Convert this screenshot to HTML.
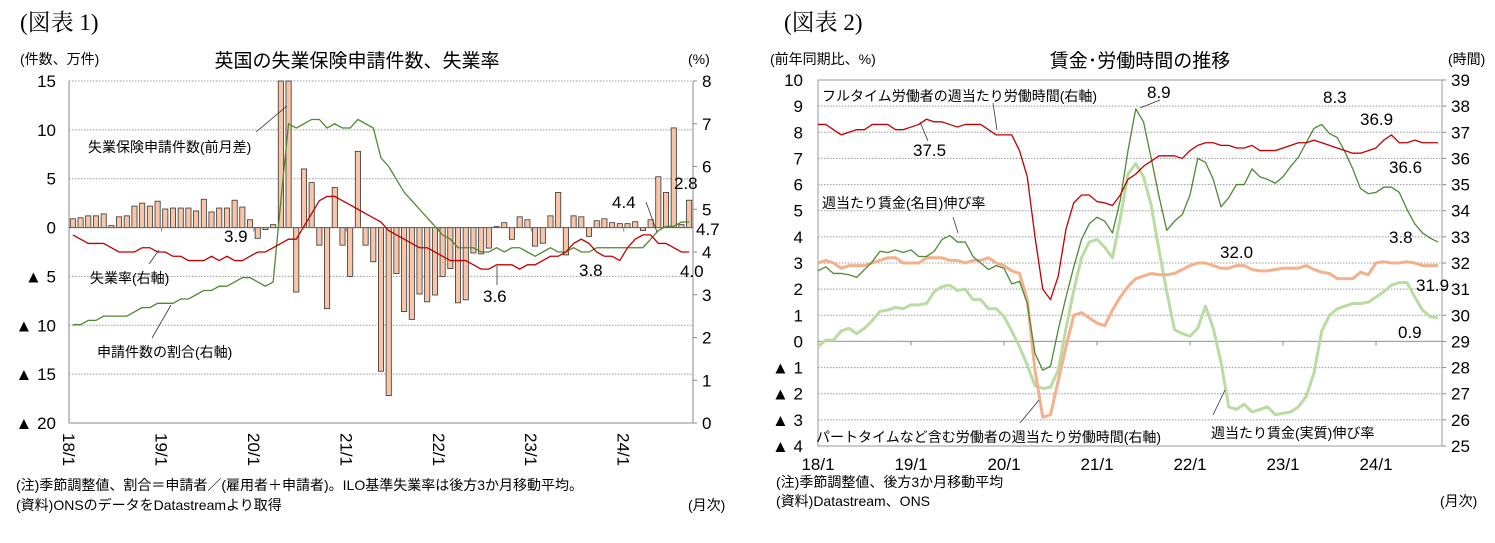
<!DOCTYPE html>
<html><head><meta charset="utf-8">
<style>
html,body{margin:0;padding:0;background:#fff;}
svg{display:block;font-family:"Liberation Sans","Noto Sans CJK JP",sans-serif;}
.t{font-size:14px;fill:#000;}
.n{font-size:17px;fill:#000;}
.ax{font-size:17px;fill:#000;}
</style></head>
<body>
<svg id="c" width="1495" height="543" viewBox="0 0 1495 543">
<text x="20" y="30" style="font-family:'Liberation Serif','Noto Serif CJK SC',serif;font-size:23px">(図表 1)</text>
<text x="784" y="30" style="font-family:'Liberation Serif','Noto Serif CJK SC',serif;font-size:23px">(図表 2)</text>
<text x="357" y="67" text-anchor="middle" style="font-size:19px">英国の失業保険申請件数、失業率</text>
<text x="1140" y="67" text-anchor="middle" style="font-size:19px">賃金･労働時間の推移</text>
<text x="20" y="64" class="t">(件数、万件)</text>
<text x="688" y="64" class="t">(%)</text>
<text x="770" y="64" class="t">(前年同期比、%)</text>
<text x="1448" y="64" class="t">(時間)</text>
<text x="16" y="490" class="t">(注)季節調整値、割合＝申請者／(雇用者＋申請者)。ILO基準失業率は後方3か月移動平均。</text>
<text x="16" y="510" class="t">(資料)ONSのデータをDatastreamより取得</text>
<text x="688" y="510" class="t">(月次)</text>
<text x="776" y="487" class="t">(注)季節調整値、後方3か月移動平均</text>
<text x="776" y="506" class="t">(資料)Datastream、ONS</text>
<text x="1440" y="506" class="t">(月次)</text>
<g id="g1"></g>
<g id="g2"></g>
</svg>
<script>
// ---- Chart 1 data ----
const years1 = ["18/1","19/1","20/1","21/1","22/1","23/1","24/1"];
const claimChange = [0.9,1.0,1.2,1.2,1.4,0.2,1.1,1.2,2.2,2.5,2.2,2.7,
 1.9,2.0,2.0,2.0,1.7,2.9,1.6,2.0,2.0,2.8,2.1,0.8,
 -1.1,-0.2,0.3,85,43,-6.6,6.0,4.6,-1.8,-8.3,4.1,-1.8,
 -5.0,7.8,-1.8,-3.5,-14.7,-17.2,-4.7,-8.6,-9.4,-6.8,-7.6,-6.9,
 -5.0,-4.2,-7.7,-7.4,-2.6,-2.7,-2.1,0.1,0.5,-1.2,1.1,0.8,
 -1.9,-1.6,1.2,3.6,-2.8,1.2,1.1,-0.9,0.7,0.9,0.5,0.4,
 0.4,0.6,-0.3,0.8,5.2,3.6,10.2,0.3,2.8];
const unempRate = [4.4,4.3,4.2,4.2,4.2,4.1,4.0,4.0,4.0,4.1,4.1,4.0,
 4.0,3.9,3.9,3.8,3.8,3.8,3.9,3.8,3.9,3.8,3.8,3.9,
 4.0,4.0,4.1,4.2,4.3,4.3,4.6,4.9,5.2,5.3,5.3,5.2,
 5.1,5.0,4.9,4.8,4.7,4.5,4.4,4.3,4.2,4.1,4.1,4.0,
 3.9,3.8,3.8,3.8,3.7,3.6,3.6,3.7,3.7,3.7,3.6,3.7,
 3.7,3.8,3.9,3.9,4.0,4.2,4.3,4.2,4.0,3.9,3.9,3.8,
 4.1,4.3,4.4,4.4,4.2,4.2,4.1,4.0,4.0];
const claimShare = [2.3,2.3,2.4,2.4,2.5,2.5,2.5,2.5,2.6,2.7,2.7,2.8,
 2.8,2.8,2.9,2.9,3.0,3.1,3.1,3.2,3.2,3.3,3.4,3.4,
 3.3,3.2,3.3,5.2,7.0,6.9,7.0,7.1,7.1,6.9,7.0,6.9,
 6.9,7.1,7.0,6.9,6.2,6.0,5.7,5.4,5.2,5.0,4.8,4.6,
 4.4,4.3,4.1,4.1,4.1,4.0,4.0,4.1,4.0,4.1,4.1,4.0,
 3.9,4.0,4.1,4.0,4.0,4.1,4.0,4.0,4.1,4.1,4.1,4.1,
 4.1,4.1,4.1,4.3,4.5,4.6,4.6,4.7,4.7];
const leftTicks1 = [15,10,5,0,-5,-10,-15,-20];
const rightTicks1 = [8,7,6,5,4,3,2,1,0];

// ---- Chart 2 data ----
const years2 = ["18/1","19/1","20/1","21/1","22/1","23/1","24/1"];
const fullHours = [37.3,37.3,37.1,36.9,37.0,37.1,37.1,37.3,37.3,37.3,37.1,37.1,37.2,37.3,37.5,37.4,37.4,37.3,37.2,37.3,37.3,37.3,37.1,36.9,36.9,36.9,
 36.3,35.3,33.0,31.0,30.6,31.5,33.3,34.3,34.6,34.6,34.35,34.3,34.2,34.6,35.2,35.4,35.7,35.9,36.1,36.1,36.1,36.0,36.3,36.5,36.6,36.6,36.5,36.5,36.4,36.4,36.5,36.3,36.3,36.3,36.4,36.5,36.6,36.6,36.7,36.6,36.5,36.4,36.3,36.2,36.2,36.3,36.4,36.7,36.9,36.6,36.6,36.7,36.6,36.6,36.6];
const allHours = [32.0,32.1,32.0,31.8,31.9,31.9,31.9,32.0,32.1,32.2,32.2,32.0,32.0,32.0,32.2,32.2,32.2,32.1,32.1,32.0,32.1,32.1,32.2,32.0,31.9,31.7,
 31.6,30.6,27.9,26.1,26.2,27.5,28.8,30.0,30.1,29.9,29.7,29.6,30.2,30.7,31.1,31.4,31.5,31.6,31.55,31.55,31.6,31.75,31.9,32.0,32.0,31.9,31.8,31.8,31.9,31.9,31.75,31.7,31.7,31.75,31.8,31.8,31.8,31.9,31.75,31.65,31.6,31.4,31.4,31.4,31.65,31.55,32.0,32.05,32.0,32.0,32.05,32.0,31.9,31.9,31.9];
const nominalWage = [2.7,2.85,2.6,2.6,2.55,2.45,2.75,3.05,3.45,3.4,3.5,3.4,3.5,3.25,3.25,3.45,3.9,4.05,3.8,3.8,3.25,3.0,2.75,2.9,2.8,2.2,
 2.3,1.45,-0.45,-1.1,-0.95,0.45,1.7,2.85,3.9,4.5,4.75,4.6,4.15,5.4,7.3,8.9,8.4,7.0,5.55,4.25,4.6,4.85,5.6,7.0,6.85,6.2,5.15,5.5,6.0,6.0,6.6,6.3,6.2,6.05,6.3,6.7,7.05,7.6,8.15,8.3,7.95,7.8,7.25,6.6,5.85,5.65,5.7,5.9,5.9,5.7,5.05,4.5,4.15,3.95,3.8];
const realWage = [-0.2,0.05,0.05,0.4,0.5,0.3,0.5,0.8,1.15,1.2,1.3,1.25,1.4,1.4,1.45,1.9,2.1,2.15,1.95,2.0,1.6,1.6,1.25,1.25,0.95,0.4,
 -0.2,-0.9,-1.7,-1.8,-1.75,-1.1,0.5,1.95,3.2,3.8,3.9,3.6,3.2,4.7,6.4,6.8,6.3,5.2,3.5,1.9,0.45,0.3,0.2,0.5,1.35,0.5,-0.8,-2.5,-2.6,-2.4,-2.7,-2.6,-2.5,-2.8,-2.75,-2.7,-2.5,-2.1,-1.2,0.4,1.0,1.25,1.35,1.45,1.45,1.5,1.7,1.9,2.15,2.25,2.25,1.7,1.2,0.95,0.9];
const leftTicks2 = [10,9,8,7,6,5,4,3,2,1,0,-1,-2,-3,-4];
const rightTicks2 = [39,38,37,36,35,34,33,32,31,30,29,28,27,26,25];

const NS="http://www.w3.org/2000/svg";
function mk(parent,tag,attrs){const e=document.createElementNS(NS,tag);for(const k in attrs)e.setAttribute(k,attrs[k]);parent.appendChild(e);return e;}
function fmt(v){return v<0?"▲ "+(-v):String(v);}

// ===== Chart 1 =====
(function(){
const g=document.getElementById('g1');
const X0=69,X1=693,Y0=81,Y1=423;
const n=claimChange.length, bw=(X1-X0)/n;
const xb=i=>X0+(i+0.5)*bw;
const yl=v=>Y0+(15-v)*(Y1-Y0)/35;
const yr=v=>Y1-v*(Y1-Y0)/8;
leftTicks1.forEach(v=>{
  const l=mk(g,'line',{x1:X0,x2:X1,y1:yl(v),y2:yl(v),stroke:'#999','stroke-dasharray':'1.5,1.5','stroke-width':1});
  
  
  const t=mk(g,'text',{x:56,y:yl(v)+6,'text-anchor':'end',class:'ax'});t.textContent=fmt(v);
  
  
});
rightTicks1.forEach(v=>{
  const t=mk(g,'text',{x:702,y:yr(v)+6,class:'ax'});t.textContent=String(v);
  
  
  mk(g,'line',{x1:X1,x2:X1+4,y1:yr(v),y2:yr(v),stroke:'#888'});
});
mk(g,'line',{x1:X0,x2:X0,y1:Y0,y2:Y1,stroke:'#888'});
mk(g,'line',{x1:X1,x2:X1,y1:Y0,y2:Y1,stroke:'#888'});
mk(g,'line',{x1:X0,x2:X1,y1:Y1,y2:Y1,stroke:'#888'});
years1.forEach((s,k)=>{
  const x=X0+k*12*bw;
  mk(g,'line',{x1:x,x2:x,y1:yl(0),y2:yl(0)+4,stroke:'#888'});
  const t=mk(g,'text',{x:x-6,y:433,class:'ax',transform:`rotate(90 ${x-6} 433)`});t.textContent=s;
  
  
});
claimChange.forEach((v,i)=>{
  const vv=Math.max(-20,Math.min(15,v));
  const y=Math.min(yl(vv),yl(0)), h=Math.abs(yl(vv)-yl(0));
  const r=mk(g,'rect',{x:xb(i)-2.6,y:y,width:5.2,height:Math.max(h,0.5),fill:'#f8c5a8',stroke:'#333','stroke-width':0.8});
  
  
});
mk(g,'line',{x1:X0,x2:X1,y1:yl(0),y2:yl(0),stroke:'#666'});
function line(arr,col,w,name){
  const p=mk(g,'polyline',{points:arr.map((v,i)=>xb(i)+','+yr(v)).join(' '),fill:'none',stroke:col,'stroke-width':w});
  
  
}
line(claimShare,'#4f8a2f',1.3,'claimant-share-line');
line(unempRate,'#c00000',1.3,'unemployment-rate-line');
})();

// ===== Chart 2 =====
(function(){
const g=document.getElementById('g2');
const X0=818,X1=1442,Y0=80,Y1=446;
const xs=i=>X0+i*7.75;
const yL=v=>Y0+(10-v)*(Y1-Y0)/14;
const yR=v=>Y0+(39-v)*(Y1-Y0)/14;
leftTicks2.forEach(v=>{
  const l=mk(g,'line',{x1:X0,x2:X1,y1:yL(v),y2:yL(v),stroke:'#999','stroke-dasharray':'1.5,1.5','stroke-width':1});
  
  
  const t=mk(g,'text',{x:803,y:yL(v)+6,'text-anchor':'end',class:'ax'});t.textContent=v<0?"▲ "+(-v):String(v);
  
  
});
rightTicks2.forEach(v=>{
  const t=mk(g,'text',{x:1451,y:yR(v)+6,class:'ax'});t.textContent=String(v);
  
  
  mk(g,'line',{x1:X1,x2:X1+4,y1:yR(v),y2:yR(v),stroke:'#888'});
});
mk(g,'rect',{x:X0,y:Y0,width:X1-X0,height:Y1-Y0,fill:'none',stroke:'#999'});
mk(g,'line',{x1:X0,x2:X1,y1:yL(0),y2:yL(0),stroke:'#999'});
years2.forEach((s,k)=>{
  const x=xs(k*12);
  mk(g,'line',{x1:x,x2:x,y1:yL(0),y2:yL(0)+4,stroke:'#888'});
  const t=mk(g,'text',{x:x,y:470,'text-anchor':'middle',class:'ax'});t.textContent=s;
  
  
});
function line(arr,ys,col,w,name){
  const p=mk(g,'polyline',{points:arr.map((v,i)=>xs(i)+','+ys(v)).join(' '),fill:'none',stroke:col,'stroke-width':w,'stroke-linejoin':'round'});
  
  
}
line(realWage,yL,'#b8dca2',3,'real-wage-growth-line');
line(allHours,yR,'#f4b08a',3,'all-worker-hours-line');
line(nominalWage,yL,'#4e8a34',1.3,'nominal-wage-growth-line');
line(fullHours,yR,'#c00000',1.3,'fulltime-hours-line');
})();

// annotations
const svg=document.getElementById('c');
const ann=[
 [88,152,'t','失業保険申請件数(前月差)','label-claimant-change'],
 [90,283,'t','失業率(右軸)','label-unemployment-rate'],
 [97,357,'t','申請件数の割合(右軸)','label-claimant-share'],
 [224,242,'n','3.9','value-3-9'],[483,302,'n','3.6','value-3-6'],[579,276,'n','3.8','value-3-8'],
 [612,208,'n','4.4','value-4-4'],[674,189,'n','2.8','value-2-8'],[696,235,'n','4.7','value-4-7'],[680,277,'n','4.0','value-4-0'],
 [822,101,'t','フルタイム労働者の週当たり労働時間(右軸)','label-fulltime-hours'],
 [1147,98,'n','8.9','value-8-9'],[913,156,'n','37.5','value-37-5'],[1323,103,'n','8.3','value-8-3'],
 [1360,125,'n','36.9','value-36-9'],[1389,173,'n','36.6','value-36-6'],
 [822,208,'t','週当たり賃金(名目)伸び率','label-nominal-wage'],
 [1389,243,'n','3.8','value-3-8-wage'],[1220,258,'n','32.0','value-32-0'],[1416,291,'n','31.9','value-31-9'],[1398,338,'n','0.9','value-0-9'],
 [816,442,'t','パートタイムなど含む労働者の週当たり労働時間(右軸)','label-all-hours'],
 [1211,438,'t','週当たり賃金(実質)伸び率','label-real-wage']
];
ann.forEach(a=>{
  const t=mk(svg,'text',{x:a[0],y:a[1],class:a[2]});t.textContent=a[3];
  
  
});
const arrows=[[256,132,287,106],[149,264,159,250],[152,338,171,305],[497,266,497,285],[646,202,657,232],
 [993,103,997,130],[1140,108,1160,100],[953,217,958,233],[1020,423,1039,400],[1213,415,1225,390],[920,122,928,141]];
arrows.forEach(a=>{
  const l=mk(svg,'line',{x1:a[0],y1:a[1],x2:a[2],y2:a[3],stroke:'#333','stroke-width':0.8});
  
  
});
</script>
</body></html>
